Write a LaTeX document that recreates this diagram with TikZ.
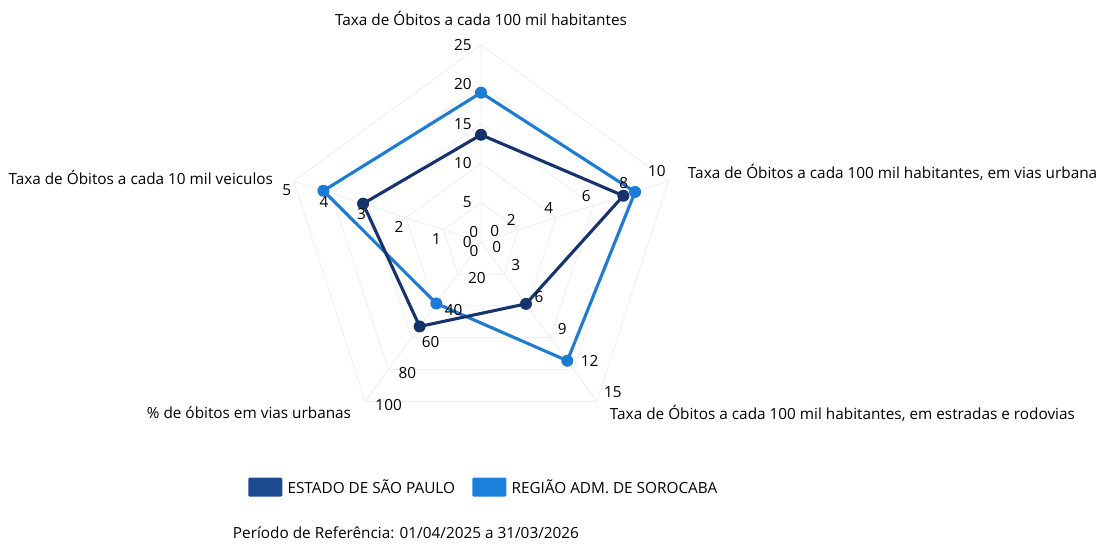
\documentclass[tikz,border=0pt]{standalone}
\usepackage{fontspec}
\setmainfont{Open Sans}
\definecolor{corSP}{HTML}{16336E}
\definecolor{corSor}{HTML}{1C7CD5}
\definecolor{legSP}{HTML}{1E4A90}
\definecolor{legSor}{HTML}{1A80DC}
\definecolor{grade}{HTML}{EDEFF2}
\tikzset{
  linhaSP/.style={draw=corSP,line width=2.2pt,line join=round},
  linhaSor/.style={draw=corSor,line width=2.2pt,line join=round},
  pontoSP/.style={circle,fill=corSP,inner sep=0pt,minimum size=.3cm},
  pontoSor/.style={circle,fill=corSor,inner sep=0pt,minimum size=.3cm},
  legenda/.style={rounded corners=1pt,minimum width=.85cm,minimum height=.48cm,inner sep=0pt},
}
\begin{document}
\begin{tikzpicture}[x=.025cm,y=.025cm,font=\fontsize{10.9}{12.5}\selectfont]
\useasboundingbox (0,0) rectangle (1110,546);
\begin{scope}[shift={(481,304)}]
    \draw[grade,line width=.6pt]
    (90:197)--(18:197)--(-54:197)--(-126:197)--(162:197)--cycle
    (90:157.6)--(18:157.6)--(-54:157.6)--(-126:157.6)--(162:157.6)--cycle
    (90:118.2)--(18:118.2)--(-54:118.2)--(-126:118.2)--(162:118.2)--cycle
    (90:78.8)--(18:78.8)--(-54:78.8)--(-126:78.8)--(162:78.8)--cycle
    (90:39.4)--(18:39.4)--(-54:39.4)--(-126:39.4)--(162:39.4)--cycle
    (0,0)--(90:197) (0,0)--(18:197) (0,0)--(-54:197) (0,0)--(-126:197) (0,0)--(162:197);
    % <<< pontos
    \coordinate (sor1) at (90:149.3);
    \coordinate (sor2) at (18:162);
    \coordinate (sor3) at (-54:146.8);
    \coordinate (sor4) at (-126:76);
    \coordinate (sor5) at (162:165.7);
    \coordinate (sp1) at (90:107.2);
    \coordinate (sp2) at (18:149.7);
    \coordinate (sp3) at (-54:76.5);
    \coordinate (sp4) at (-126:104.4);
    \coordinate (sp5) at (162:124);
    \draw[linhaSor] (sor1)--(sor2)--(sor3)--(sor4)--(sor5)--cycle;
    \node[pontoSor] (msor1) at (sor1) {};
    \node[pontoSor] (msor2) at (sor2) {};
    \node[pontoSor] (msor3) at (sor3) {};
    \node[pontoSor] (msor4) at (sor4) {};
    \node[pontoSor] (msor5) at (sor5) {};
    \draw[linhaSP] (sp1)--(sp2)--(sp3)--(sp4)--(sp5)--cycle;
    \node[pontoSP] (msp1) at (sp1) {};
    \node[pontoSP] (msp2) at (sp2) {};
    \node[pontoSP] (msp3) at (sp3) {};
    \node[pontoSP] (msp4) at (sp4) {};
    \node[pontoSP] (msp5) at (sp5) {};
    % <<< escalas
    \path[nodes={anchor=east,inner sep=0pt}]
    (-9,0) node (a0) {0}
    ++(90:39.4) node (a5) {5}
    ++(90:39.4) node (a10) {10}
    ++(90:39.4) node (a15) {15}
    ++(90:39.4) node (a20) {20}
    ++(90:39.4) node (a25) {25};
    \path[nodes={anchor=south east,inner sep=0pt}]
    (-2.5,4) node (b0) {0}
    ++(18:39.4) node (b2) {2}
    ++(18:39.4) node (b4) {4}
    ++(18:39.4) node (b6) {6}
    ++(18:39.4) node (b8) {8}
    ++(18:39.4) node (b10) {10};
    \path[nodes={anchor=west,inner sep=0pt}]
    (9,11) node (c0) {0}
    ++(-54:39.4) ++(-2,-2) node (c3) {3}
    ++(-54:39.4) node (c6) {6}
    ++(-54:39.4) node (c9) {9}
    ++(-54:39.4) node (c12) {12}
    ++(-54:39.4) node (c15) {15};
    \path[nodes={anchor=west,inner sep=0pt}]
    (11,-5) node (d0) {0}
    ++(-126:39.4) ++(-1,1) node (d20) {20}
    ++(-126:39.4) node (d40) {40}
    ++(-126:39.4) node (d60) {60}
    ++(-126:39.4) node (d80) {80}
    ++(-126:39.4) node (d100) {100};
    \path[nodes={inner sep=0pt}]
    (-7,-9) node (e0) {0}
    ++(162:39.4) node (e1) {1}
    ++(162:39.4) node (e2) {2}
    ++(162:39.4) node (e3) {3}
    ++(162:39.4) node (e4) {4}
    ++(162:39.4) node (e5) {5};
\end{scope}
% <<< eixos
\node (t1) at (481,528) {Taxa de Óbitos a cada 100 mil habitantes};
\node[anchor=west] (t2) at (683,374) {Taxa de Óbitos a cada 100 mil habitantes, em vias urbana};
\node[anchor=west] (t3) at (605,133) {Taxa de Óbitos a cada 100 mil habitantes, em estradas e rodovias};
\node[anchor=east] (t4) at (356,133) {\% de óbitos em vias urbanas};
\node[anchor=east] (t5) at (278,369) {Taxa de Óbitos a cada 10 mil veiculos};
% <<< legenda
\node[legenda,fill=legSP,anchor=south west] (lsp) at (248,49) {};
\node[anchor=west] (tsp) at (lsp.east) {ESTADO DE SÃO PAULO};
\node[legenda,fill=legSor,anchor=south west] (lsor) at (472,49) {};
\node[anchor=west] (tsor) at (lsor.east) {REGIÃO ADM. DE SOROCABA};
\node[anchor=west] (per) at (228,13) {Período de Referência: 01/04/2025 a 31/03/2026};
\end{tikzpicture}
\end{document}
